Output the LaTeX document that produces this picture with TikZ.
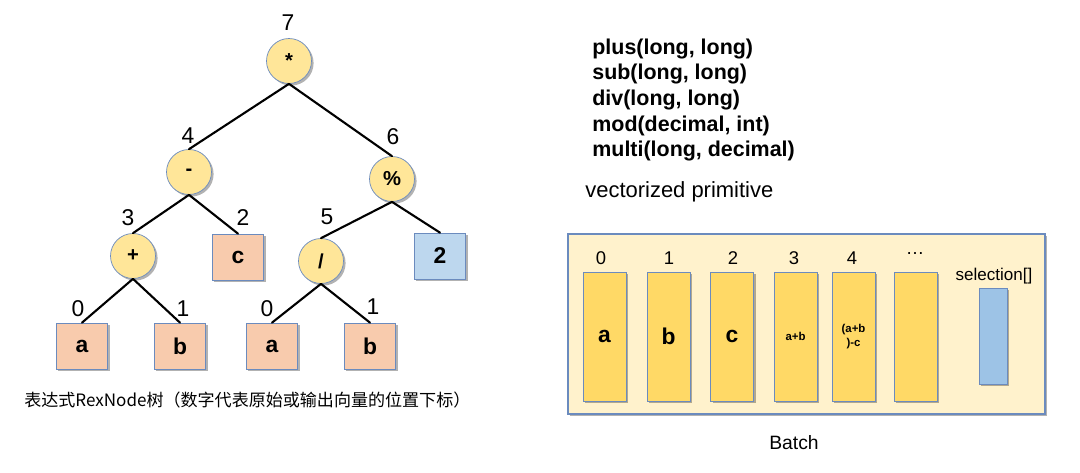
\documentclass[tikz,border=0pt]{standalone}
\usepackage{fontspec}
\setmainfont{Liberation Sans}
\newfontfamily\cjk{Noto Sans CJK SC}
\usepackage{tikz}
\usetikzlibrary{shadows,positioning}
\definecolor{opColor}{HTML}{FFE699}
\definecolor{leafColor}{HTML}{F8CBAD}
\definecolor{constColor}{HTML}{BDD7EE}
\definecolor{colColor}{HTML}{FFD966}
\definecolor{batchColor}{HTML}{FFF2CC}
\definecolor{selColor}{HTML}{9DC3E6}
\definecolor{penColor}{HTML}{6B8BBE}
\newcommand{\fs}[1]{\fontsize{#1}{#1}\selectfont}
\tikzset{
  shade/.style={drop shadow={shadow xshift=1.2pt,shadow yshift=-1.2pt,opacity=0.3,fill=black}},
  opnode/.style={circle,draw=penColor,fill=opColor,minimum size=0.9cm,inner sep=0pt,
    font=\bfseries\fs{11.5},shade},
  leafnode/.style={rectangle,draw=penColor,fill=leafColor,minimum width=1.03cm,
    minimum height=0.92cm,inner sep=0pt,font=\bfseries\fs{13},shade},
  constnode/.style={leafnode,fill=constColor},
  idx/.style={inner sep=0pt,font=\fs{13}},
  colnode/.style={rectangle,draw=penColor,fill=colColor,minimum width=0.86cm,
    minimum height=2.58cm,inner sep=0pt,font=\bfseries\fs{13},shade},
  colidx/.style={inner sep=0pt,font=\fs{10.5}},
  sig/.style={anchor=west,inner sep=0pt,font=\bfseries\fs{12.2}},
  edge/.style={line width=1.2pt}
}
\begin{document}
\begin{tikzpicture}[x=0.02cm,y=-0.02cm,line cap=round]
  \useasboundingbox (0,0) rectangle (1080,473);

  % expression tree
  \node [opnode] (mul) at (289,61) {*};
  \node [opnode] (sub) at (189,172) {-};
  \node [opnode] (mod) at (392,179) {\%};
  \node [opnode] (add) at (133,256) {+};
  \node [leafnode] (c) at (238,257) {c};
  \node [opnode] (div) at (321,261) {/};
  \node [constnode] (two) at (440,256) {2};
  \node [leafnode] (a1) at (82,346) {a};
  \node [leafnode] (b1) at (180,346) {b};
  \node [leafnode] (a2) at (272,346) {a};
  \node [leafnode] (b2) at (370,346) {b};

  \draw [edge] (mul.south) -- (sub.north);
  \draw [edge] (mul.south) -- (mod.north);
  \draw [edge] (sub.south) -- (add.north);
  \draw [edge] (sub.south) -- (c.north);
  \draw [edge] (mod.south) -- (div.north);
  \draw [edge] (mod.south) -- (two.north);
  \draw [edge] (add.south) -- (a1.north);
  \draw [edge] (add.south) -- (b1.north);
  \draw [edge] (div.south) -- (a2.north);
  \draw [edge] (div.south) -- (b2.north);

  \node [idx] (i7) at (288,23) {7};
  \node [idx] (i4) at (188,136) {4};
  \node [idx] (i6) at (393,137) {6};
  \node [idx] (i3) at (128,218) {3};
  \node [idx] (i2) at (243,218) {2};
  \node [idx] (i5) at (327,217) {5};
  \node [idx] (i0a) at (78,309) {0};
  \node [idx] (i1a) at (183,309) {1};
  \node [idx] (i0b) at (267,309) {0};
  \node [idx] (i1b) at (373,307) {1};

  \node [anchor=west,inner sep=0pt] (cap) at (24,400)
    {\cjk\fs{9.7}表达式RexNode树（数字代表原始或输出向量的位置下标）};

  % primitives
  \node [sig] (p1) at (592,49) {plus(long, long)};
  \node [sig] (p2) at (592,74.5) {sub(long, long)};
  \node [sig] (p3) at (592,100) {div(long, long)};
  \node [sig] (p4) at (592,125.5) {mod(decimal, int)};
  \node [sig] (p5) at (592,151) {multi(long, decimal)};
  \node [anchor=west,inner sep=0pt,font=\fs{12.5}] (vp) at (585,192) {vectorized primitive};

  % batch
  \node [rectangle,draw=penColor,line width=0.8pt,fill=batchColor,minimum width=9.54cm,
    minimum height=3.6cm,shade] (batch) at (806.5,324) {};
  \node [colnode] (v0) at (604.5,336.5) {a};
  \node [colnode] (v1) at (668.5,336.5) {b};
  \node [colnode] (v2) at (732,336.5) {c};
  \node [colnode,font=\bfseries\fs{6.5}] (v3) at (795.5,336.5) {a+b};
  \node [colnode,font=\bfseries\fs{6.5},align=center] (v4) at (853.5,336.5)
    {(a+b\\[1.5pt])-c};
  \node [colnode] (v5) at (915.5,336.5) {};
  \node [rectangle,draw=penColor,fill=selColor,minimum width=0.56cm,
    minimum height=1.92cm,inner sep=0pt,shade] (sel) at (993,336) {};

  \node [colidx] (c0) at (601,258) {0};
  \node [colidx] (c1) at (669,258) {1};
  \node [colidx] (c2) at (733,258) {2};
  \node [colidx] (c3) at (794,258) {3};
  \node [colidx] (c4) at (852,258) {4};
  \node [colidx] (c5) at (915,254) {…};
  \node [colidx,font=\fs{9.7}] (sl) at (994,276) {selection[]};

  \node [inner sep=0pt,font=\fs{11}] (bl) at (794,443) {Batch};

\end{tikzpicture}
\end{document}
